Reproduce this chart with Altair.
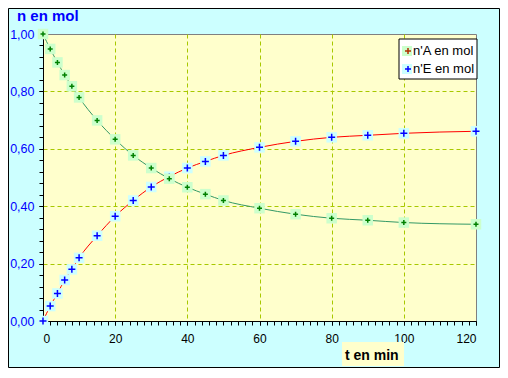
import altair as alt
import pandas as pd

# ---- data ----
t_min = [0, 2, 4, 6, 8, 10, 15, 20, 25, 30, 35, 40, 45, 50, 60, 70, 80, 90, 100, 120]
n_A = [1.00, 0.948, 0.901, 0.857, 0.818, 0.779, 0.699, 0.633, 0.577, 0.533, 0.496,
       0.466, 0.442, 0.420, 0.393, 0.372, 0.358, 0.351, 0.343, 0.337]
n_E = [0.00, 0.052, 0.096, 0.143, 0.180, 0.220, 0.297, 0.365, 0.420, 0.467, 0.503,
       0.533, 0.556, 0.577, 0.605, 0.626, 0.640, 0.647, 0.654, 0.661]
series = ["n'A", "n'E"]
legend_labels = ["n'A en mol", "n'E en mol"]
x_major = [0, 20, 40, 60, 80, 100, 120]
y_major = [0.0, 0.2, 0.4, 0.6, 0.8, 1.0]
x_minor = list(range(0, 121, 2))
y_minor = [round(i * 0.04, 2) for i in range(26)]
y_title = "n en mol"
x_title = "t en min"

df = pd.DataFrame({
    "t": t_min + t_min,
    "n": n_A + n_E,
    "serie": [series[0]] * len(t_min) + [series[1]] * len(t_min),
})

FONT = "Liberation Sans"
GRID = "#a8c800"
CROSS = "M-1,0L1,0M0,-1L0,1"

x_scale = alt.Scale(domain=[0, 120], nice=False)
y_scale = alt.Scale(domain=[0, 1], nice=False)

x_axis = alt.Axis(values=x_major, title=None, orient="bottom", format="d",
                  grid=True, gridColor=GRID, gridDash=[4, 3], gridWidth=1,
                  gridOpacity={"condition": {"test": "datum.value >= 120", "value": 0}, "value": 1},
                  domainColor="black", domainWidth=1, tickColor="black", tickSize=4,
                  labelColor="black", labelFont=FONT, labelFontSize=12, labelPadding=8)
y_axis = alt.Axis(values=y_major, title=None, orient="left",
                  labelExpr="replace(format(datum.value, '.2f'), '.', ',')",
                  grid=True, gridColor=GRID, gridDash=[4, 3], gridWidth=1,
                  gridOpacity={"condition": {"test": "datum.value >= 0.99", "value": 0}, "value": 1},
                  domainColor="black", domainWidth=1, tickColor="black", tickSize=4,
                  labelColor="#0000ff", labelFont=FONT, labelFontSize=12.5, labelPadding=5)

base = alt.Chart(df)
X = alt.X("t:Q", scale=x_scale, axis=x_axis)
Y = alt.Y("n:Q", scale=y_scale, axis=y_axis)

selA = alt.datum.serie == series[0]
selE = alt.datum.serie == series[1]

line_E = base.transform_filter(selE).mark_line(color="#ff0000", strokeWidth=1, interpolate="monotone").encode(x=X, y=Y)
line_A = base.transform_filter(selA).mark_line(color="#339966", strokeWidth=1, interpolate="monotone").encode(x="t:Q", y="n:Q")
sq_E = base.transform_filter(selE).mark_square(size=110, color="#ccffff", opacity=1, strokeWidth=0).encode(x="t:Q", y="n:Q")
cr_E = base.transform_filter(selE).mark_point(shape=CROSS, size=49, filled=False, stroke="#0000ff", strokeWidth=1.5, opacity=1).encode(x="t:Q", y="n:Q")
sq_A = base.transform_filter(selA).mark_square(size=110, color="#ccffcc", opacity=1, strokeWidth=0).encode(x="t:Q", y="n:Q")
cr_A = base.transform_filter(selA).mark_point(shape=CROSS, size=25, filled=False, stroke="#008000", strokeWidth=1.5, opacity=1).encode(x="t:Q", y="n:Q")

one = alt.Chart(pd.DataFrame({"a": [0]}))

# legend (manual)
leg_box = one.mark_rect(fill="white", stroke="black", strokeWidth=1).encode(
    x=alt.value(356), x2=alt.value(434), y=alt.value(5), y2=alt.value(45))
leg_sq1 = one.mark_square(size=100, color="#ccffcc", opacity=1, strokeWidth=0).encode(x=alt.value(364), y=alt.value(17))
leg_cr1 = one.mark_point(shape=CROSS, size=36, filled=False, stroke="#b03000", strokeWidth=1.5, opacity=1).encode(x=alt.value(365), y=alt.value(17))
leg_sq2 = one.mark_square(size=100, color="#ccffff", opacity=1, strokeWidth=0).encode(x=alt.value(364), y=alt.value(35))
leg_cr2 = one.mark_point(shape=CROSS, size=36, filled=False, stroke="#0000ff", strokeWidth=1.5, opacity=1).encode(x=alt.value(365), y=alt.value(35))
leg_t1 = one.mark_text(text=legend_labels[0], align="left", baseline="middle", font=FONT, fontSize=13, color="black").encode(x=alt.value(370), y=alt.value(17))
leg_t2 = one.mark_text(text=legend_labels[1], align="left", baseline="middle", font=FONT, fontSize=13, color="black").encode(x=alt.value(370), y=alt.value(35))

# titles
ytitle = one.mark_text(text=y_title, align="left", baseline="alphabetic", font=FONT, fontSize=15, fontWeight="bold", color="#0000ff").encode(
    x=alt.value(-26), y=alt.value(-13))
xbox = one.mark_rect(fill="#ffffcc", strokeWidth=0).encode(x=alt.value(299), x2=alt.value(361), y=alt.value(308), y2=alt.value(332))
xtitle = one.mark_text(text=x_title, align="left", baseline="alphabetic", font=FONT, fontSize=14, fontWeight="bold", color="black").encode(
    x=alt.value(302), y=alt.value(326))

# outer frame
frame = one.mark_rect(fillOpacity=0, stroke="black", strokeWidth=1).encode(
    x=alt.value(-34.5), x2=alt.value(456.5), y=alt.value(-25.5), y2=alt.value(333.5))

main = alt.layer(line_E, line_A, sq_E, cr_E, sq_A, cr_A,
                 leg_box, leg_sq1, leg_cr1, leg_sq2, leg_cr2, leg_t1, leg_t2,
                 ytitle, xbox, xtitle, frame)

minor = base.mark_point(opacity=0).encode(
    x=alt.X("t:Q", scale=x_scale, axis=alt.Axis(values=x_minor, orient="bottom", title=None, labels=False, grid=False,
                                                 domain=False, ticks=True, tickSize=4, tickColor="black")),
    y=alt.Y("n:Q", scale=y_scale, axis=alt.Axis(values=y_minor, orient="left", title=None, labels=False, grid=False,
                                                 domain=False, ticks=True, tickSize=4, tickColor="black")),
)

chart = alt.layer(main, minor).resolve_axis(x="independent", y="independent").properties(
    width=433, height=287,
    autosize=alt.AutoSizeParams(type="none"),
    padding={"left": 35, "top": 26, "right": 24, "bottom": 47},
).configure(background="#ccffff").configure_view(fill="#ffffcc", stroke="#808080", strokeWidth=1)

chart.save("out.html", embed_options={"renderer": "svg", "actions": False})
